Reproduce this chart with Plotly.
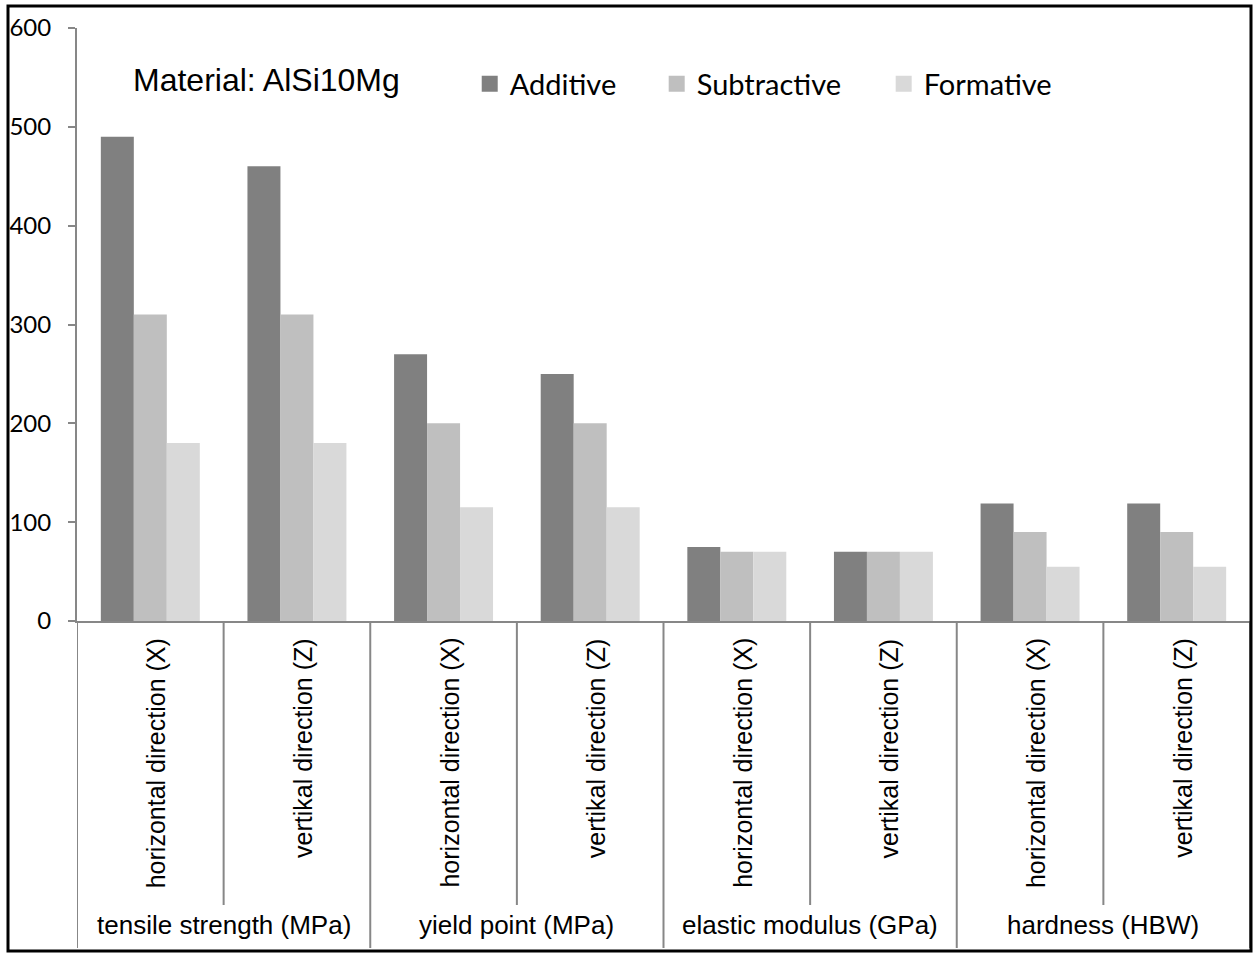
import plotly.graph_objects as go

# Mechanical properties of AlSi10Mg by manufacturing route
sub_labels = [
    "horizontal direction (X)", "vertikal direction (Z)",
    "horizontal direction (X)", "vertikal direction (Z)",
    "horizontal direction (X)", "vertikal direction (Z)",
    "horizontal direction (X)", "vertikal direction (Z)",
]
group_labels = [
    "tensile strength (MPa)", "yield point (MPa)",
    "elastic modulus (GPa)", "hardness (HBW)",
]
additive = [490, 460, 270, 250, 75, 70, 119, 119]
subtractive = [310, 310, 200, 200, 70, 70, 90, 90]
formative = [180, 180, 115, 115, 70, 70, 55, 55]
y_ticks = [0, 100, 200, 300, 400, 500, 600]

series = [
    ("Additive", additive, "#808080", "legend", 0.3348),
    ("Subtractive", subtractive, "#bfbfbf", "legend2", 0.4942),
    ("Formative", formative, "#d9d9d9", "legend3", 0.6877),
]

W, H = 1253, 955
ML, MR, MT, MB = 77, 3, 28, 334
PW = W - ML - MR
PH = H - MT - MB


def px_x(p):
    return (p - ML) / PW


def px_y(p):
    return (H - MB - p) / PH


xs = list(range(len(sub_labels)))
fig = go.Figure()
for name, vals, color, leg, _ in series:
    fig.add_trace(go.Bar(
        x=xs, y=vals, name=name, showlegend=False,
        marker=dict(color=color, line=dict(width=0)),
    ))
# Legend keys: square swatches in each series colour
for name, vals, color, leg, _ in series:
    fig.add_trace(go.Scatter(
        x=[None], y=[None], name=name, legend=leg, mode="markers",
        marker=dict(symbol="square", size=16, color=color),
        showlegend=True,
    ))

axis_col = "#878787"
legend_font = dict(family="Lato", size=29, color="#000000")
legend_cfg = {}
for name, vals, color, leg, lx in series:
    legend_cfg[leg] = dict(
        x=lx, y=px_y(84), xanchor="left", yanchor="middle",
        orientation="h", font=legend_font, bgcolor="rgba(0,0,0,0)",
        borderwidth=0, itemsizing="trace",
    )

fig.update_layout(
    width=W, height=H,
    margin=dict(l=ML, r=MR, t=MT, b=MB),
    paper_bgcolor="white", plot_bgcolor="white",
    barmode="group", bargap=0.325, bargroupgap=0,
    showlegend=True,
    **legend_cfg,
    xaxis=dict(
        range=[-0.5, len(sub_labels) - 0.5], showticklabels=False,
        showgrid=False, zeroline=False, showline=True,
        linecolor=axis_col, linewidth=2, ticks="",
    ),
    yaxis=dict(
        range=[0, 600], tickvals=y_ticks, showgrid=False, zeroline=False,
        showline=True, linecolor=axis_col, linewidth=2,
        ticks="outside", ticklen=7, tickcolor=axis_col, tickwidth=2,
        ticklabelstandoff=12,
        tickfont=dict(family="Lato", size=24, color="#000000"),
    ),
)

# Category dividers below the axis
shapes = []
for i in range(len(sub_labels) + 1):
    xb = i - 0.5
    is_group_edge = (i % 2 == 0)
    shapes.append(dict(
        type="line", xref="x", yref="paper", x0=xb, x1=xb,
        y0=0, y1=px_y(948) if is_group_edge else px_y(905),
        line=dict(color=axis_col, width=2),
    ))
# Outer frame
shapes.append(dict(
    type="rect", xref="paper", yref="paper",
    x0=px_x(8), x1=px_x(1251), y0=px_y(951), y1=px_y(6),
    line=dict(color="#000000", width=3), fillcolor="rgba(0,0,0,0)",
))
fig.update_layout(shapes=shapes)

label_font = dict(family="Liberation Sans, Arial", size=25, color="#000000")
group_font = dict(family="Liberation Sans, Arial", size=26, color="#000000")
annotations = []
for i, lab in enumerate(sub_labels):
    annotations.append(dict(
        x=i, xref="x", y=px_y(636), yref="paper",
        text=lab, textangle=-90, showarrow=False,
        xanchor="center", yanchor="top", xshift=6, font=label_font,
    ))
for g, lab in enumerate(group_labels):
    annotations.append(dict(
        x=2 * g + 0.5, xref="x", y=px_y(925), yref="paper",
        text=lab, showarrow=False, xanchor="center", yanchor="middle",
        font=group_font,
    ))
annotations.append(dict(
    x=px_x(131), xref="paper", y=px_y(80), yref="paper",
    text="Material: AlSi10Mg", showarrow=False,
    xanchor="left", yanchor="middle",
    font=dict(family="Liberation Sans, Arial", size=32, color="#000000"),
))
fig.update_layout(annotations=annotations)

fig.write_html("out.html")
